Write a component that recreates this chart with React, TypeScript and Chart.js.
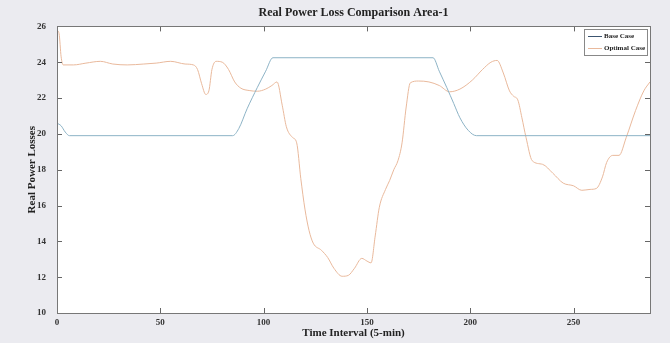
import React, { useEffect, useRef } from "react";
import { Chart, registerables } from "chart.js";

Chart.register(...registerables);

const chartTitle = "Real Power Loss Comparison Area-1";
const xAxisTitle = "Time Interval (5-min)";
const yAxisTitle = "Real Power Losses";
const seriesNames = ["Base Case", "Optimal Case"];

const xTicks = [0, 50, 100, 150, 200, 250];
const yTicks = [10, 12, 14, 16, 18, 20, 22, 24, 26];

const baseX = [0, 2, 4, 6, 85, 88, 92, 97, 101, 104.5, 182, 185, 188.6, 192, 195, 199, 203, 287];
const baseY = [20.6, 20.45, 20.1, 19.9, 19.9, 20.3, 21.4, 22.6, 23.5, 24.25, 24.25, 23.5, 22.6, 21.7, 20.9, 20.2, 19.9, 19.9];

const optX = [0, 1, 2, 3, 8, 14, 21, 27, 34, 42, 48, 55, 62, 66, 68, 70, 72, 73.5, 75, 77, 80, 83, 86, 89, 93, 97, 101, 104, 106.5, 109, 111, 114, 116, 118, 120, 122, 124, 128, 131, 134, 138, 141, 144, 147.5, 150, 152, 154, 156, 159, 161, 163, 165, 167, 169, 171, 175, 180, 185, 190, 195, 201, 206, 210, 213, 216, 219, 221, 223, 225, 227, 230, 235, 240, 245, 250, 254, 258, 261, 264, 266, 269, 272, 275.5, 280, 284, 287];
const optY = [25.8, 25.6, 24.3, 23.85, 23.85, 23.95, 24.05, 23.9, 23.85, 23.9, 23.95, 24.05, 23.9, 23.85, 23.6, 22.8, 22.2, 22.4, 23.6, 24.05, 24.0, 23.6, 22.9, 22.55, 22.42, 22.38, 22.5, 22.7, 22.9, 21.6, 20.4, 19.8, 19.5, 17.5, 15.8, 14.6, 13.9, 13.5, 13.1, 12.5, 12.05, 12.1, 12.5, 13.05, 12.9, 12.8, 14.3, 15.9, 16.9, 17.4, 18.0, 18.5, 19.5, 21.5, 22.85, 22.95, 22.9, 22.7, 22.35, 22.5, 23.0, 23.6, 24.0, 24.1, 23.4, 22.4, 22.1, 21.9, 20.9, 19.8, 18.5, 18.3, 17.8, 17.25, 17.1, 16.85, 16.9, 16.95, 17.6, 18.4, 18.8, 18.8, 19.8, 21.3, 22.4, 22.9];

const baseColor = "#8db3c6";
const optColor = "#e9b99c";
const legendBaseColor = "#3c5570";
const fontFamily = "'Liberation Serif', 'DejaVu Serif', serif";

const insideTicks = {
  id: "insideTicks",
  afterDatasetsDraw(chart: any) {
    const { ctx, chartArea, scales } = chart;
    const { left, right, top, bottom } = chartArea;
    ctx.save();
    ctx.strokeStyle = "#666";
    ctx.lineWidth = 1;
    const len = 5;
    scales.x.ticks.forEach((t: any) => {
      const px = Math.round(scales.x.getPixelForValue(t.value)) + 0.5;
      ctx.beginPath();
      ctx.moveTo(px, bottom);
      ctx.lineTo(px, bottom - len);
      ctx.moveTo(px, top);
      ctx.lineTo(px, top + len);
      ctx.stroke();
    });
    scales.y.ticks.forEach((t: any) => {
      const py = Math.round(scales.y.getPixelForValue(t.value)) + 0.5;
      ctx.beginPath();
      ctx.moveTo(left, py);
      ctx.lineTo(left + len, py);
      ctx.moveTo(right, py);
      ctx.lineTo(right - len, py);
      ctx.stroke();
    });
    ctx.strokeStyle = "#777";
    ctx.strokeRect(Math.round(left) + 0.5, Math.round(top) + 0.5, Math.round(right - left), Math.round(bottom - top));

    // legend box
    const bx = Math.round(right) - 66, by = Math.round(top) + 3, bw = 63, bh = 26;
    ctx.fillStyle = "#ffffff";
    ctx.fillRect(bx, by, bw, bh);
    ctx.strokeStyle = "#888";
    ctx.strokeRect(bx + 0.5, by + 0.5, bw, bh);
    const rows = [
      { name: seriesNames[0], color: legendBaseColor },
      { name: seriesNames[1], color: optColor },
    ];
    ctx.font = "bold 7px " + fontFamily;
    ctx.textBaseline = "middle";
    ctx.textAlign = "left";
    rows.forEach((r, i) => {
      const y = by + 7 + i * 12 + 0.5;
      ctx.strokeStyle = r.color;
      ctx.beginPath();
      ctx.moveTo(bx + 4, y);
      ctx.lineTo(bx + 18, y);
      ctx.stroke();
      ctx.fillStyle = "#222";
      ctx.fillText(r.name, bx + 20, y);
    });
    ctx.restore();
  },
};

const plotBg = {
  id: "plotBg",
  beforeDraw(chart: any) {
    const { ctx, chartArea, width, height } = chart;
    ctx.save();
    ctx.fillStyle = "#ebebf0";
    ctx.fillRect(0, 0, width, height);
    ctx.fillStyle = "#ffffff";
    ctx.fillRect(chartArea.left, chartArea.top, chartArea.right - chartArea.left, chartArea.bottom - chartArea.top);
    ctx.restore();
  },
};

export default function App() {
  const ref = useRef<HTMLCanvasElement | null>(null);
  useEffect(() => {
    document.body.style.margin = "0";
    const canvas = ref.current;
    if (!canvas) return;
    const chart = new Chart(canvas, {
      type: "line",
      data: {
        datasets: [
          {
            label: seriesNames[0],
            data: baseX.map((x, i) => ({ x, y: baseY[i] })),
            borderColor: baseColor,
            borderWidth: 1,
            pointRadius: 0,
            cubicInterpolationMode: "monotone",
          },
          {
            label: seriesNames[1],
            data: optX.map((x, i) => ({ x, y: optY[i] })),
            borderColor: optColor,
            borderWidth: 1,
            pointRadius: 0,
            cubicInterpolationMode: "monotone",
          },
        ],
      },
      options: {
        animation: false,
        responsive: false,
        maintainAspectRatio: false,
        layout: { padding: { left: 0, right: 20, top: 0, bottom: 0 } },
        plugins: {
          legend: { display: false },
          tooltip: { enabled: false },
          title: {
            display: true,
            text: chartTitle,
            fullSize: false,
            color: "#222",
            font: { family: fontFamily, size: 12, weight: "bold" },
            padding: { top: 6, bottom: 6 },
          },
        },
        scales: {
          x: {
            type: "linear",
            min: 0,
            max: 287,
            afterFit: (s: any) => { s.height = 30; },
            afterBuildTicks: (s: any) => { s.ticks = xTicks.map((v) => ({ value: v })); },
            grid: { display: false, drawTicks: false },
            border: { display: false },
            ticks: {
              padding: 4,
              color: "#333",
              font: { family: fontFamily, size: 9, weight: "bold" },
              maxRotation: 0,
            },
            title: {
              display: true,
              text: xAxisTitle,
              color: "#222",
              font: { family: fontFamily, size: 11, weight: "bold" },
              padding: { top: 0, bottom: 3 },
            },
          },
          y: {
            type: "linear",
            min: 10,
            max: 26,
            afterFit: (s: any) => { s.width = 57; },
            afterBuildTicks: (s: any) => { s.ticks = yTicks.map((v) => ({ value: v })); },
            grid: { display: false, drawTicks: false },
            border: { display: false },
            ticks: {
              padding: 11,
              color: "#333",
              font: { family: fontFamily, size: 9, weight: "bold" },
            },
            title: {
              display: true,
              text: yAxisTitle,
              color: "#222",
              font: { family: fontFamily, size: 11, weight: "bold" },
              padding: { top: 26, bottom: 0 },
            },
          },
        },
      },
      plugins: [plotBg, insideTicks],
    } as any);
    return () => chart.destroy();
  }, []);
  return (
    <div style={{ width: 670, height: 343 }}>
      <canvas ref={ref} width={670} height={343} style={{ display: "block" }} />
    </div>
  );
}
